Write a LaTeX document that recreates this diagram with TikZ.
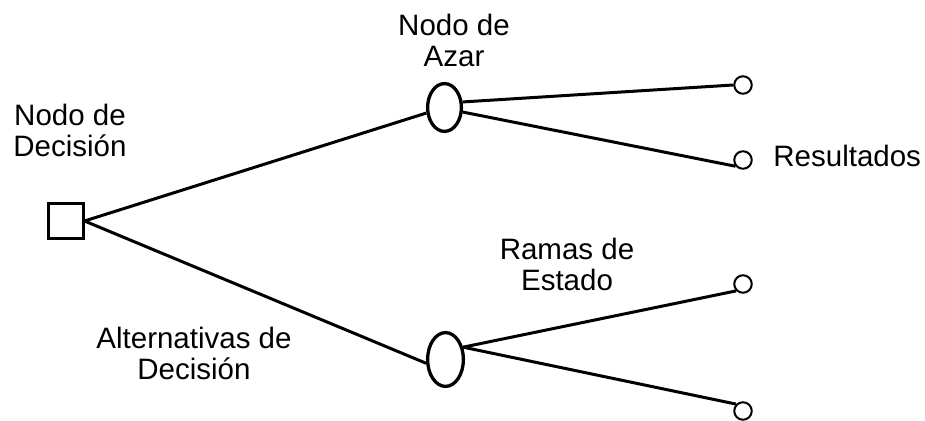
\documentclass[tikz,border=0pt]{standalone}
\usepackage{fontspec}
\setmainfont{Liberation Sans}
\usetikzlibrary{shapes.geometric}

\begin{document}
\begin{tikzpicture}[x=0.5pt, y=-0.5pt,
    decision/.style={draw, rectangle, line width=1.5pt, minimum size=17.5pt, inner sep=0pt},
    chance/.style={draw, ellipse, line width=1.65pt, inner sep=0pt},
    result/.style={draw, circle, line width=1pt, minimum size=8.75pt, inner sep=0pt},
    branch/.style={line width=1.5pt},
    lbl/.style={align=center, inner sep=0pt, font=\fontsize{14.75}{15.5}\selectfont}]
  \useasboundingbox (0,0) rectangle (925,421);

  % nodos
  \node[decision] (dec) at (65.5,221) {};
  \node[chance, minimum width=16.9pt, minimum height=23.9pt] (azar1) at (444.5,107.5) {};
  \node[chance, minimum width=17.9pt, minimum height=26.9pt] (azar2) at (445.5,359.5) {};
  \node[result] (r1) at (743,85) {};
  \node[result] (r2) at (743,160) {};
  \node[result] (r3) at (743,284) {};
  \node[result] (r4) at (743,411) {};

  % textos
  \node[lbl, anchor=north] (ldec) at (70,104) {Nodo de\\Decisión};
  \node[lbl, anchor=north] (lazar) at (454,14) {Nodo de\\Azar};
  \node[lbl, anchor=north] (lramas) at (567,238) {Ramas de\\Estado};
  \node[lbl, anchor=north] (lalt) at (194,327) {Alternativas de\\Decisión};
  \node[lbl, anchor=base west] (lres) at (773,167) {Resultados};

  % ramas
  \draw[branch] (dec.east) -- (azar1.197);
  \draw[branch] (dec.east) -- (azar2.191);
  \draw[branch] (azar1.17) -- (r1.west);
  \draw[branch] (azar1.-14) -- (r2.220);
  \draw[branch] (azar2.35) -- (r3.south west);
  \draw[branch] (azar2.35) -- (r4.north west);
\end{tikzpicture}
\end{document}
